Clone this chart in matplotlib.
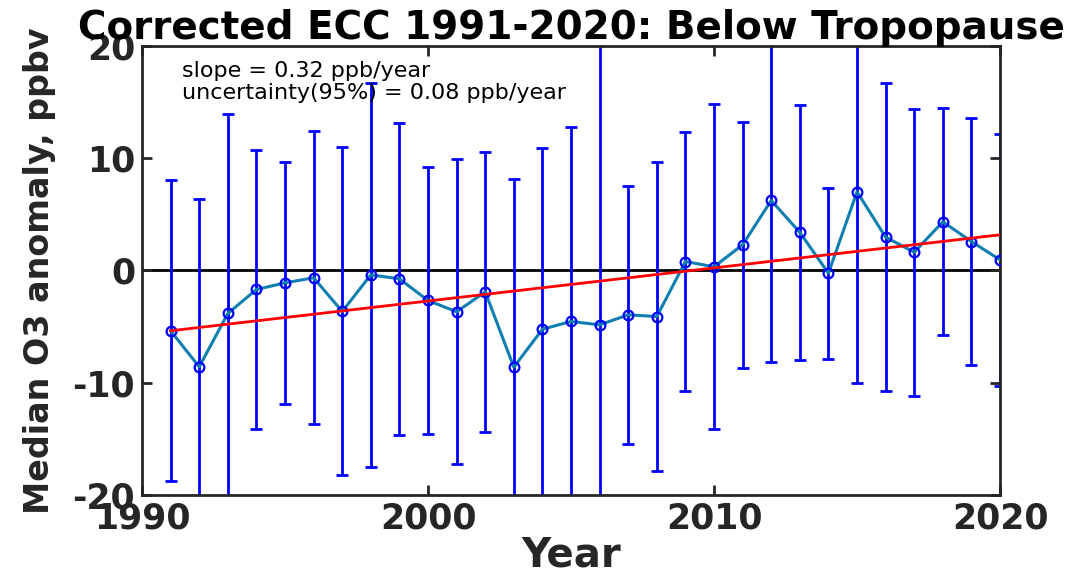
import numpy as np
import matplotlib
matplotlib.use("Agg")
import matplotlib.pyplot as plt

plt.rcParams["axes.unicode_minus"] = False

# medianas anuales de la anomalia de O3 (ppbv) y su barra de error (simetrica)
years = np.arange(1991, 2021)
median_o3 = [-5.37, -8.58, -3.83, -1.69, -1.10, -0.65, -3.65, -0.39, -0.74, -2.67,
             -3.68, -1.90, -8.61, -5.23, -4.54, -4.84, -3.95, -4.10, 0.80, 0.33,
             2.29, 6.24, 3.39, -0.24, 7.01, 2.97, 1.63, 4.34, 2.58, 0.95]
err_o3 = [13.4, 14.96, 17.79, 12.41, 10.75, 13.06, 14.61, 17.08, 13.87, 11.91,
          13.6, 12.5, 16.75, 16.16, 17.31, 26.0, 11.52, 13.75, 11.55, 14.49,
          10.95, 14.41, 11.37, 7.6, 17.05, 13.72, 12.77, 10.12, 11.02, 11.25]

# recta de tendencia (extremos)
trend_years = [1991, 2020]
trend_vals = [-5.37, 3.18]

slope_txt = "slope = 0.32 ppb/year\nuncertainty(95%) = 0.08 ppb/year"

fig = plt.figure(figsize=(10.89, 5.74), dpi=100)
ax = fig.add_axes([0.1304, 0.1376, 0.7879, 0.7823])

ax.plot([1990, 2020], [0, 0], color="black", lw=2, zorder=1)
ax.errorbar(years, median_o3, yerr=err_o3, fmt="none", ecolor="blue",
            elinewidth=2, capsize=4, capthick=2, zorder=2)
ax.plot(years, median_o3, color="#0E7FB0", lw=2.2, zorder=3)
ax.plot(years, median_o3, "o", mfc="none", mec="blue", ms=7, mew=1.6, zorder=4)
ax.plot(trend_years, trend_vals, color="red", lw=2, zorder=5)

ax.set_xlim(1990, 2020)
ax.set_ylim(-20, 20)
ax.set_xticks([1990, 2000, 2010, 2020])
ax.set_yticks([-20, -10, 0, 10, 20])
ax.tick_params(direction="in", length=7, width=2, top=True, right=True,
               labelsize=25, colors="#262626", pad=5)
for lab in ax.get_xticklabels() + ax.get_yticklabels():
    lab.set_fontweight("bold")
for s in ax.spines.values():
    s.set_linewidth(2)
    s.set_color("#262626")

ax.text(1991.4, 18.7, slope_txt, fontsize=16, va="top", ha="left", color="black",
        linespacing=1.15)

ax.set_title("Corrected ECC 1991-2020: Below Tropopause", fontsize=28,
             fontweight="bold", pad=5)
ax.set_xlabel("Year", fontsize=29, fontweight="bold", color="#262626", labelpad=0)
ax.set_ylabel("Median O3 anomaly, ppbv", fontsize=24, fontweight="bold",
              color="#262626", labelpad=12)

fig.savefig("out.png", dpi=100)
